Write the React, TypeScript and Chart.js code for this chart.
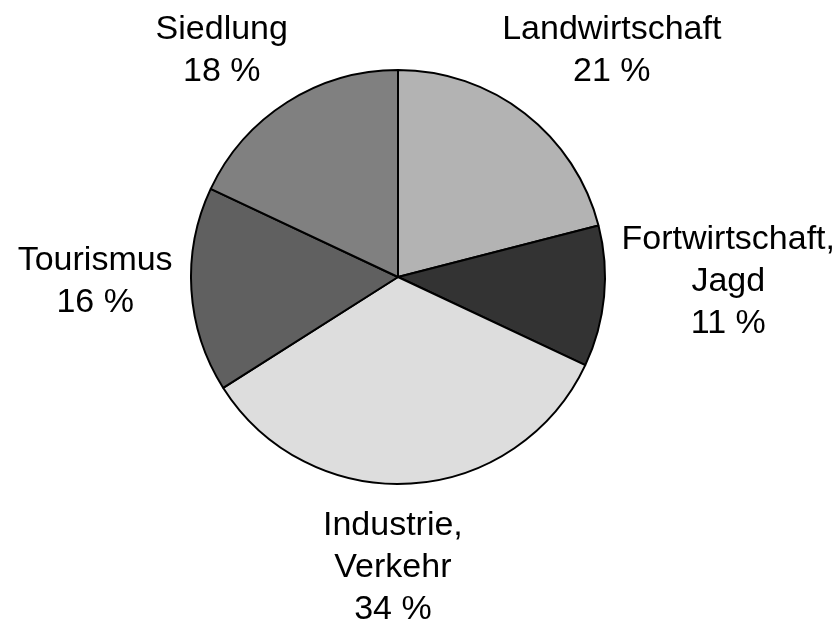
import React, { useEffect, useRef } from "react";
import { Chart, registerables } from "chart.js";

Chart.register(...registerables);

const categories: string[][] = [
  ["Landwirtschaft"],
  ["Fortwirtschaft,", "Jagd"],
  ["Industrie,", "Verkehr"],
  ["Tourismus"],
  ["Siedlung"],
];
const values: number[] = [21, 11, 34, 16, 18];
const colors: string[] = ["#b3b3b3", "#333333", "#dddddd", "#606060", "#808080"];

// label layout tweaks (pixels) applied after the automatic outside placement
const labelNudgeX: number[] = [5, -6, -24, 5, -17];
const labelNudgeY: number[] = [-20, -25, 4, -15, -6];

const FONT = "34px 'Liberation Sans', Arial, sans-serif";
const LINE_H = 42;
const CAP_H = 24;
const GAP = 24;

const labelPlugin = {
  id: "outerLabels",
  afterDraw(chart: any) {
    const ctx = chart.ctx;
    const meta = chart.getDatasetMeta(0);
    ctx.save();
    ctx.font = FONT;
    ctx.fillStyle = "#000";
    ctx.textAlign = "center";
    ctx.textBaseline = "alphabetic";
    meta.data.forEach((arc: any, i: number) => {
      const { x, y, startAngle, endAngle, outerRadius } = arc.getProps(
        ["x", "y", "startAngle", "endAngle", "outerRadius"],
        true
      );
      const mid = (startAngle + endAngle) / 2;
      const dx = Math.cos(mid);
      const dy = Math.sin(mid);
      const lines = [...categories[i], `${values[i]} %`];
      const w = Math.max(...lines.map((l) => ctx.measureText(l).width));
      const h = (lines.length - 1) * LINE_H + CAP_H;
      const px = x + (outerRadius + GAP) * dx;
      const py = y + (outerRadius + GAP) * dy;
      const cx = px + (dx * w) / 2 + labelNudgeX[i];
      const cy = py + (dy * h) / 2 + labelNudgeY[i];
      const top = cy - h / 2;
      lines.forEach((l, j) => {
        ctx.fillText(l, cx, top + CAP_H + LINE_H * j);
      });
    });
    ctx.restore();
  },
};

export default function App() {
  const ref = useRef<HTMLCanvasElement>(null);
  useEffect(() => {
    if (!ref.current) return;
    const chart = new Chart(ref.current, {
      type: "pie",
      data: {
        labels: categories.map((c) => c.join(" ")),
        datasets: [
          {
            data: values,
            backgroundColor: colors,
            borderColor: "#000000",
            borderWidth: 2,
          },
        ],
      },
      options: {
        animation: false,
        responsive: false,
        layout: { padding: { left: 190, right: 232, top: 69, bottom: 135 } },
        plugins: {
          legend: { display: false },
          tooltip: { enabled: false },
        },
      },
      plugins: [labelPlugin],
    });
    return () => chart.destroy();
  }, []);
  return (
    <div style={{ position: "fixed", left: 0, top: 0, width: 838, height: 620, background: "#fff" }}>
      <canvas ref={ref} width={838} height={620} style={{ width: 838, height: 620 }} />
    </div>
  );
}
